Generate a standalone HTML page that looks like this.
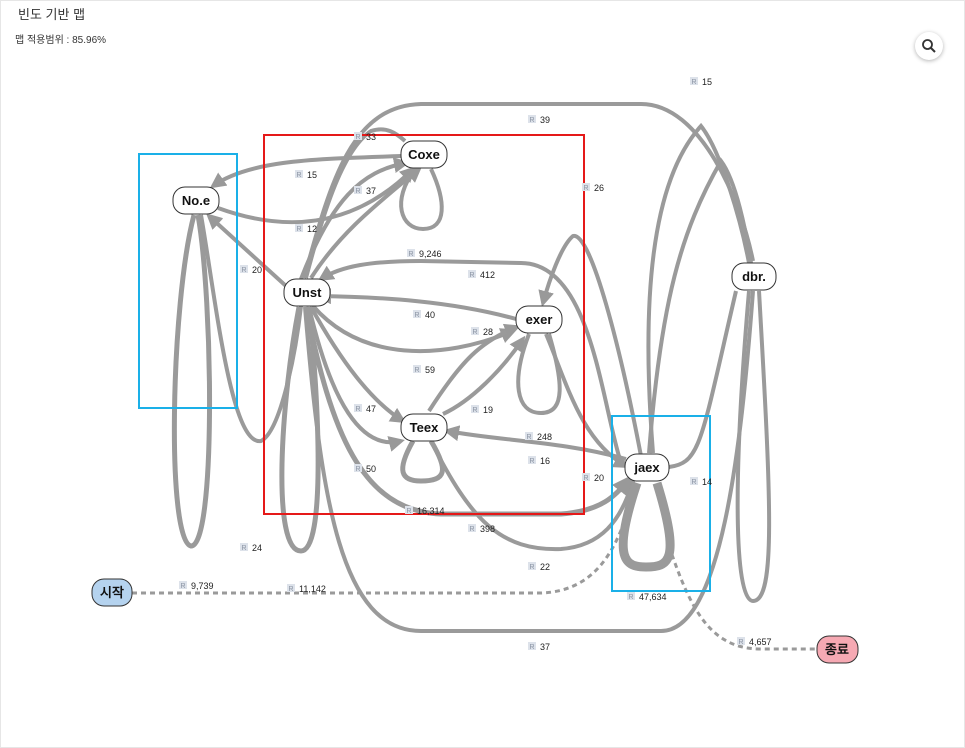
<!DOCTYPE html>
<html><head><meta charset="utf-8"><style>
body{margin:0;background:#fff;font-family:"Liberation Sans","Noto Sans CJK KR",sans-serif;}
.wrap{position:relative;width:963px;height:746px;border:1px solid #e6e6e6;overflow:hidden}
.t{position:absolute;left:17px;top:3px;font-size:13px;color:#333}
.s{position:absolute;left:14px;top:30px;font-size:10px;color:#333}
.mag{position:absolute;left:914px;top:31px;width:28px;height:28px;border-radius:50%;box-shadow:0 1px 4px rgba(0,0,0,.3);background:#fff}
</style></head><body><div class="wrap">
<div class="t">빈도 기반 맵</div>
<div class="s">맵 적용범위 : 85.96%</div>
<div class="mag"><svg width="28" height="28"><circle cx="12.5" cy="12.5" r="4.5" stroke="#333" stroke-width="1.8" fill="none"/><line x1="16" y1="16" x2="20" y2="20" stroke="#333" stroke-width="2"/></svg></div>
<svg width="965" height="748" style="position:absolute;left:0;top:0" font-family="Liberation Sans, sans-serif">
<defs><marker id="a" markerWidth="4" markerHeight="4" refX="3" refY="2" orient="auto"><path d="M0,0L4,2L0,4z" fill="#999"/></marker></defs>
<g fill="none" stroke="#9a9a9a" stroke-width="4">
<path d="M193,214 C170,300 165,540 190,545 C215,545 212,300 197,214" stroke-width="5"/>
<path d="M200,214 C215,300 230,445 260,440 C280,430 295,350 300,305"/>
<path d="M285,285 L208,215" marker-end="url(#a)"/>
<path d="M400,155 C320,158 250,158 212,185" marker-end="url(#a)"/>
<path d="M217,207 C280,230 350,230 412,168" marker-end="url(#a)"/>
<path d="M414,168 C390,200 400,228 422,228 C446,228 445,200 430,168"/>
<path d="M300,278 C330,200 360,170 405,162" marker-end="url(#a)"/>
<path d="M310,277 C340,230 380,200 418,168" marker-end="url(#a)"/>
<path d="M305,277 C320,220 340,150 370,130 C385,125 395,132 404,140"/>
<path d="M303,277 C330,180 350,105 420,103 L640,103 C700,103 740,200 752,260"/>
<path d="M298,306 C280,400 270,550 300,550 C325,550 318,400 308,306" stroke-width="5"/>
<path d="M515,318 C450,300 380,296 318,295" marker-end="url(#a)"/>
<path d="M620,462 C600,400 590,262 520,262 L420,260 C370,260 340,265 320,278" marker-end="url(#a)"/>
<path d="M312,305 C360,360 440,360 512,330" marker-end="url(#a)"/>
<path d="M528,333 C510,380 515,412 540,412 C565,412 562,380 548,333"/>
<path d="M640,455 C620,350 590,230 572,235 C560,245 548,280 542,302" marker-end="url(#a)"/>
<path d="M545,333 C565,380 580,440 625,465" marker-end="url(#a)"/>
<path d="M428,410 C460,360 480,340 516,326" marker-end="url(#a)"/>
<path d="M442,413 C470,400 500,370 522,338" marker-end="url(#a)"/>
<path d="M310,306 C340,360 370,400 402,420" marker-end="url(#a)"/>
<path d="M308,306 C330,400 360,450 400,440" marker-end="url(#a)"/>
<path d="M412,440 C395,470 400,480 420,480 C445,480 448,470 430,440" stroke-width="5"/>
<path d="M625,458 C560,440 500,440 446,430" marker-end="url(#a)"/>
<path d="M430,440 C470,520 500,550 560,548 C600,545 620,520 632,480" marker-end="url(#a)"/>
<path d="M305,306 C330,430 360,510 440,513 L560,513 C600,510 615,495 628,478" marker-end="url(#a)" stroke-width="5"/>
<path d="M304,306 C320,500 340,630 420,630 L660,630 C720,630 740,450 752,290"/>
<path d="M636,482 C610,560 625,566 645,566 C668,566 680,560 656,482" stroke-width="9"/>
<path d="M668,466 C700,462 700,440 735,290"/>
<path d="M648,452 C660,300 680,230 720,160 C735,180 745,230 750,262"/>
<path d="M652,452 C640,300 650,180 700,125 C720,150 740,220 748,262"/>
<path d="M748,290 C730,500 735,600 752,600 C775,600 770,500 758,290"/>
<path d="M131,592 L540,592 C600,590 620,540 634,485" stroke-dasharray="5,4" stroke-width="3"/>
<path d="M668,545 C690,610 710,648 760,648 L815,648" stroke-dasharray="5,4" stroke-width="3"/>
</g>
<g fill="none" stroke-width="2">
<rect x="138" y="153" width="98" height="254" stroke="#1ab0e8"/>
<rect x="263" y="134" width="320" height="379" stroke="#e51919"/>
<rect x="611" y="415" width="98" height="175" stroke="#1ab0e8"/>
</g>
<g stroke="#333" stroke-width="1" font-size="13" font-weight="bold" text-anchor="middle">
<rect x="172" y="186" width="46" height="27" rx="12" fill="#fff"/><text x="195" y="204" stroke="none" fill="#111">No.e</text>
<rect x="400" y="140" width="46" height="27" rx="12" fill="#fff"/><text x="423" y="158" stroke="none" fill="#111">Coxe</text>
<rect x="283" y="278" width="46" height="27" rx="12" fill="#fff"/><text x="306" y="296" stroke="none" fill="#111">Unst</text>
<rect x="515" y="305" width="46" height="27" rx="12" fill="#fff"/><text x="538" y="323" stroke="none" fill="#111">exer</text>
<rect x="400" y="413" width="46" height="27" rx="12" fill="#fff"/><text x="423" y="431" stroke="none" fill="#111">Teex</text>
<rect x="624" y="453" width="44" height="27" rx="12" fill="#fff"/><text x="646" y="471" stroke="none" fill="#111">jaex</text>
<rect x="731" y="262" width="44" height="27" rx="12" fill="#fff"/><text x="753" y="280" stroke="none" fill="#111">dbr.</text>
<rect x="91" y="578" width="40" height="27" rx="12" fill="#b5d3ef"/><text x="111" y="596" stroke="none" fill="#111">시작</text>
<rect x="816" y="635" width="41" height="27" rx="12" fill="#f6a9b3"/><text x="836" y="653" stroke="none" fill="#111">종료</text>
</g>
<g font-size="9">
<g fill="#dde2ea"><rect x="689" y="76" width="8" height="8"/><rect x="527" y="114" width="8" height="8"/><rect x="353" y="131" width="8" height="8"/><rect x="294" y="169" width="8" height="8"/><rect x="353" y="185" width="8" height="8"/><rect x="581" y="182" width="8" height="8"/><rect x="294" y="223" width="8" height="8"/><rect x="406" y="248" width="8" height="8"/><rect x="239" y="264" width="8" height="8"/><rect x="467" y="269" width="8" height="8"/><rect x="412" y="309" width="8" height="8"/><rect x="470" y="326" width="8" height="8"/><rect x="412" y="364" width="8" height="8"/><rect x="353" y="403" width="8" height="8"/><rect x="470" y="404" width="8" height="8"/><rect x="524" y="431" width="8" height="8"/><rect x="527" y="455" width="8" height="8"/><rect x="353" y="463" width="8" height="8"/><rect x="581" y="472" width="8" height="8"/><rect x="689" y="476" width="8" height="8"/><rect x="404" y="505" width="8" height="8"/><rect x="467" y="523" width="8" height="8"/><rect x="239" y="542" width="8" height="8"/><rect x="527" y="561" width="8" height="8"/><rect x="178" y="580" width="8" height="8"/><rect x="286" y="583" width="8" height="8"/><rect x="626" y="591" width="8" height="8"/><rect x="527" y="641" width="8" height="8"/><rect x="736" y="636" width="8" height="8"/></g>
<g fill="#8a93a3" font-size="7" text-anchor="middle"><text x="693" y="83">R</text><text x="531" y="121">R</text><text x="357" y="138">R</text><text x="298" y="176">R</text><text x="357" y="192">R</text><text x="585" y="189">R</text><text x="298" y="230">R</text><text x="410" y="255">R</text><text x="243" y="271">R</text><text x="471" y="276">R</text><text x="416" y="316">R</text><text x="474" y="333">R</text><text x="416" y="371">R</text><text x="357" y="410">R</text><text x="474" y="411">R</text><text x="528" y="438">R</text><text x="531" y="462">R</text><text x="357" y="470">R</text><text x="585" y="479">R</text><text x="693" y="483">R</text><text x="408" y="512">R</text><text x="471" y="530">R</text><text x="243" y="549">R</text><text x="531" y="568">R</text><text x="182" y="587">R</text><text x="290" y="590">R</text><text x="630" y="598">R</text><text x="531" y="648">R</text><text x="740" y="643">R</text></g>
<g fill="#222">
<text x="701" y="84">15</text><text x="539" y="122">39</text><text x="365" y="139">33</text><text x="306" y="177">15</text><text x="365" y="193">37</text><text x="593" y="190">26</text><text x="306" y="231">12</text><text x="418" y="256">9,246</text><text x="251" y="272">20</text><text x="479" y="277">412</text><text x="424" y="317">40</text><text x="482" y="334">28</text><text x="424" y="372">59</text><text x="365" y="411">47</text><text x="482" y="412">19</text><text x="536" y="439">248</text><text x="539" y="463">16</text><text x="365" y="471">50</text><text x="593" y="480">20</text><text x="701" y="484">14</text><text x="416" y="513">16,314</text><text x="479" y="531">398</text><text x="251" y="550">24</text><text x="539" y="569">22</text><text x="190" y="588">9,739</text><text x="298" y="591">11,142</text><text x="638" y="599">47,634</text><text x="539" y="649">37</text><text x="748" y="644">4,657</text>
</g></g>
</svg></div></body></html>
